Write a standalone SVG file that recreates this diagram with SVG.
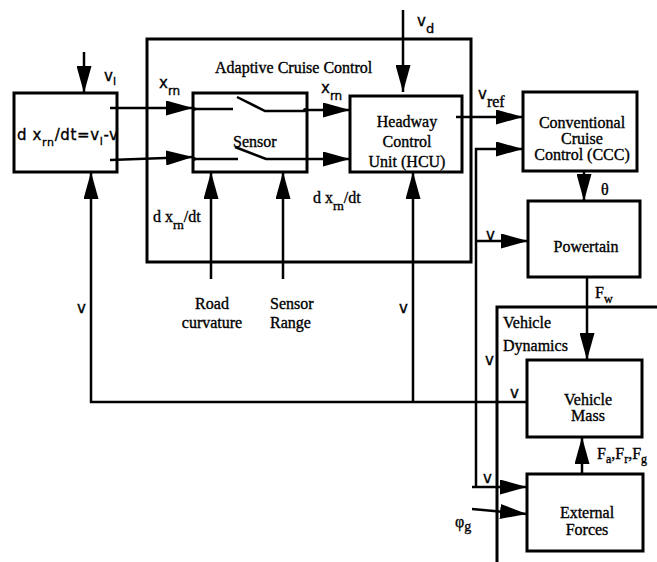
<svg xmlns="http://www.w3.org/2000/svg" width="657" height="562" viewBox="0 0 657 562">
<style>
.box{fill:none;stroke:#000;stroke-width:3}
.ln{fill:none;stroke:#000;stroke-width:2.5}
.ar{fill:none;stroke:#000;stroke-width:2.5;marker-end:url(#ah)}
text{stroke:#000;stroke-width:0.35}
.t{font-family:"Liberation Serif",serif;font-size:16px;fill:#000}
.tc{font-family:"Liberation Serif",serif;font-size:16px;fill:#000;text-anchor:middle}
.m{font-family:"DejaVu Sans",sans-serif;font-size:15px;fill:#000}
</style>
<defs>
<marker id="ah" markerUnits="userSpaceOnUse" viewBox="0 0 27 15" refX="27" refY="7.5" markerWidth="27" markerHeight="15" orient="auto">
<path d="M0,0 L27,7.5 L0,15 z" fill="#000"/>
</marker>
</defs>
<rect width="657" height="562" fill="#fff"/>

<g id="acc">
<rect class="box" x="147" y="39" width="324" height="223"/>
<text class="t" x="215" y="73" font-size="18">Adaptive Cruise Control</text>
</g>

<g id="vehicle-dynamics">
<rect class="box" x="497" y="307" width="220" height="300"/>
<text class="t" x="503" y="328" font-size="18">Vehicle</text>
<text class="t" x="503" y="351" font-size="18">Dynamics</text>
</g>

<g id="relative-distance">
<rect class="box" x="14" y="93" width="103" height="79"/>
<text class="m" x="17" y="140" font-size="16" textLength="101">d x<tspan dy="6" font-size="11">rn</tspan><tspan dy="-6">/dt=v</tspan><tspan dy="5" font-size="11">l</tspan><tspan dy="-5">-v</tspan></text>
</g>

<g id="sensor">
<rect class="box" x="193" y="93" width="114" height="79"/>
<path class="ln" d="M193,109 H233 M237,97 L265,111 H305 M193,159 H238 M235,147 L266,159 H307"/>
<circle cx="194" cy="109" r="2"/>
<circle cx="305" cy="110" r="2"/>
<circle cx="194" cy="159" r="2"/>
<text class="t" x="233" y="147">Sensor</text>
</g>

<g id="hcu">
<rect class="box" x="350" y="96" width="112" height="76"/>
<text class="tc" x="407" y="127">Headway</text>
<text class="tc" x="407" y="147">Control</text>
<text class="tc" x="407" y="167">Unit (HCU)</text>
</g>

<g id="ccc">
<rect class="box" x="523" y="92" width="114" height="79"/>
<text class="tc" x="582" y="128">Conventional</text>
<text class="tc" x="582" y="144">Cruise</text>
<text class="tc" x="582" y="160">Control (CCC)</text>
</g>

<g id="powertrain">
<rect class="box" x="528" y="201" width="112" height="76"/>
<text class="tc" x="586" y="252">Powertain</text>
</g>

<g id="vehicle-mass">
<rect class="box" x="527" y="360" width="115" height="77"/>
<text class="tc" x="588" y="405">Vehicle</text>
<text class="tc" x="588" y="421">Mass</text>
</g>

<g id="external-forces">
<rect class="box" x="527" y="474" width="116" height="77"/>
<text class="tc" x="587" y="518">External</text>
<text class="tc" x="587" y="535">Forces</text>
</g>

<g id="connectors">
<path class="ar" d="M84,52 V93"/>
<path class="ar" d="M110,108 H193"/>
<path class="ar" d="M110,160 L193,157"/>
<path class="ar" d="M305,110 H350"/>
<path class="ar" d="M307,159 H350"/>
<path class="ar" d="M403,10 V92"/>
<path class="ar" d="M456,117 H523"/>
<path class="ar" d="M476,487 V149 H523"/>
<path class="ar" d="M476,241 H528"/>
<path class="ar" d="M584,171 V201"/>
<path class="ar" d="M587,277 V360"/>
<path class="ar" d="M582,474 V437"/>
<path class="ar" d="M472,487 H527"/>
<path class="ar" d="M472,509 L527,514"/>
<path class="ar" d="M211,279 V172"/>
<path class="ar" d="M283,279 V172"/>
<path class="ar" d="M413,402 V172"/>
<path class="ar" d="M527,402 H91 V172"/>
</g>

<g id="labels">
<text class="m" x="104" y="81">v<tspan dy="4" font-size="11">l</tspan></text>
<text class="m" x="159" y="88">x<tspan dy="7" font-size="12">rn</tspan></text>
<text class="m" x="321" y="93">x<tspan dy="7" font-size="12">rn</tspan></text>
<text class="t" x="313" y="203" font-size="17">d x<tspan dy="7" font-size="13">rn</tspan><tspan dy="-7">/dt</tspan></text>
<text class="t" x="153" y="222" font-size="17">d x<tspan dy="7" font-size="13">rn</tspan><tspan dy="-7">/dt</tspan></text>
<text class="m" x="417" y="26">v<tspan dy="7" font-size="13">d</tspan></text>
<text class="m" x="478" y="99">v<tspan dy="8" class="t" font-size="15">ref</tspan></text>
<text class="m" x="486" y="240">v</text>
<text class="t" x="601" y="195">θ</text>
<text class="t" x="595" y="298">F<tspan dy="5" font-size="12">w</tspan></text>
<text class="t" x="597" y="459">F<tspan dy="4" font-size="12">a</tspan><tspan dy="-4">,F</tspan><tspan dy="4" font-size="12">r</tspan><tspan dy="-4">,F</tspan><tspan dy="4" font-size="12">g</tspan></text>
<text class="t" x="455" y="527">φ<tspan dy="4" font-size="14">g</tspan></text>
<text class="m" x="77" y="313">v</text>
<text class="m" x="399" y="313">v</text>
<text class="m" x="510" y="398">v</text>
<text class="m" x="483" y="483">v</text>
<text class="m" x="485" y="365">v</text>
<text class="tc" x="212" y="309">Road</text>
<text class="tc" x="212" y="328">curvature</text>
<text class="t" x="270" y="309">Sensor</text>
<text class="t" x="270" y="328">Range</text>
</g>
</svg>
